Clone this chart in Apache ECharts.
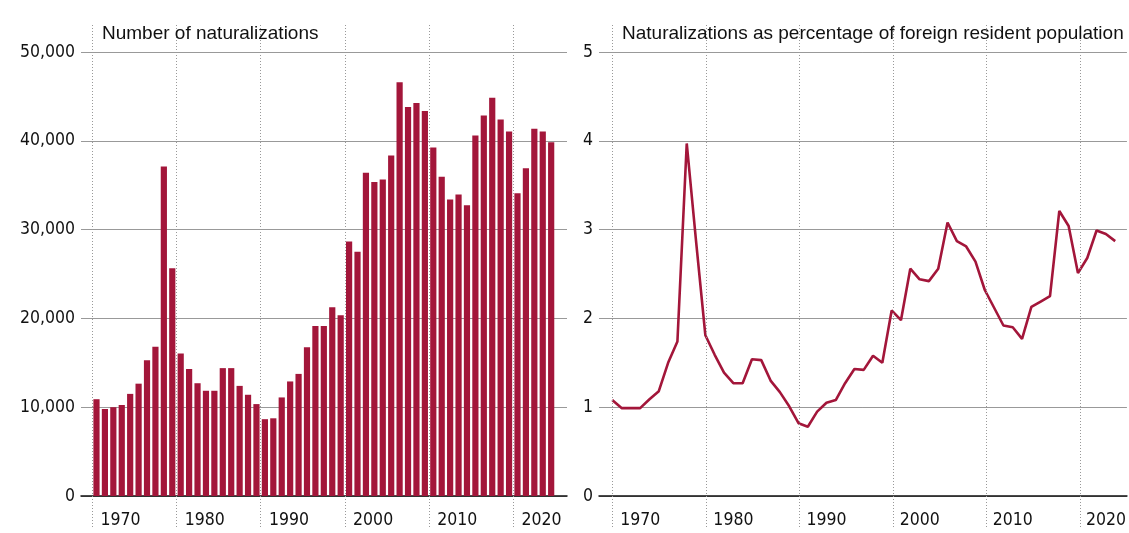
<!DOCTYPE html>
<html>
<head>
<meta charset="utf-8">
<script src="https://cdn.jsdelivr.net/npm/echarts@6/dist/echarts.min.js"></script>
<style>
html,body{margin:0;padding:0;background:#fff;}
#c{width:1129px;height:533px;}
</style>
</head>
<body>
<div id="c"></div>
<script>
var years = [1970,1971,1972,1973,1974,1975,1976,1977,1978,1979,
             1980,1981,1982,1983,1984,1985,1986,1987,1988,1989,
             1990,1991,1992,1993,1994,1995,1996,1997,1998,1999,
             2000,2001,2002,2003,2004,2005,2006,2007,2008,2009,
             2010,2011,2012,2013,2014,2015,2016,2017,2018,2019,
             2020,2021,2022,2023,2024];
var naturalizations = [10900,9800,10000,10250,11500,12650,15300,16800,37100,25650,
                       16050,14300,12700,11850,11850,14400,14400,12400,11400,10350,
                       8650,8750,11100,12900,13750,16750,19150,19150,21250,20350,
                       28650,27500,36400,35350,35650,38350,46600,43800,44250,43350,
                       39250,35950,33400,33950,32750,40600,42850,44850,42400,41050,
                       34100,36900,41350,41050,39850];
var percentage = [1.08,0.99,0.99,0.99,1.09,1.18,1.50,1.74,3.97,2.87,
                  1.81,1.59,1.39,1.27,1.27,1.54,1.53,1.30,1.17,1.01,
                  0.82,0.78,0.95,1.05,1.08,1.27,1.43,1.42,1.58,1.50,
                  2.09,1.98,2.56,2.44,2.42,2.56,3.08,2.87,2.81,2.64,
                  2.32,2.12,1.92,1.90,1.77,2.13,2.19,2.25,3.21,3.04,
                  2.51,2.68,2.99,2.95,2.87];
var decadeTicks = [1970,1980,1990,2000,2010,2020];
var leftTitle = 'Number of naturalizations';
var rightTitle = 'Naturalizations as percentage of foreign resident population';

var RED = '#A3163A';
var TICKFONT = '"Liberation Sans Narrow","DejaVu Sans Condensed",sans-serif';
var TICKSIZE = 17.5;
var TITLEFONT = '"Liberation Sans","Arial",sans-serif';

var barPairs = years.map(function(y,i){return [y, naturalizations[i]];});
var linePairs = years.map(function(y,i){return [y, percentage[i]];});

var L = {left:81, right:1129-567, min:1968.16, max:2025.88};
var R = {left:599, right:0, min:1968.58, max:2025.26};

function xAxisMain(gi, ext, pad){
  return {
    type:'value', gridIndex:gi, min:ext.min, max:ext.max,
    splitLine:{show:false},
    axisLine:{show:true, onZero:false, lineStyle:{color:'#111', width:1.5}},
    axisTick:{show:false, customValues:decadeTicks},
    axisLabel:{show:true, customValues:decadeTicks, align:'left', margin:15,
      padding:[0,0,0,pad], color:'#111', fontSize:TICKSIZE, fontFamily:TICKFONT,
      formatter:function(v){return String(Math.round(v));}}
  };
}
function xAxisOverlay(gi, ext){
  return {type:'value', gridIndex:gi, min:ext.min, max:ext.max, show:false,
          splitLine:{show:false}};
}
function yAxisOverlay(gi){
  return {type:'value', gridIndex:gi, min:0, max:1, show:false, splitLine:{show:false}};
}
function dotted(offset){
  return decadeTicks.map(function(t){return {xAxis:t+offset};});
}

var option = {
  animation:false,
  backgroundColor:'#fff',
  title:[
    {text:leftTitle, left:102, top:24, padding:0,
     textStyle:{fontFamily:TITLEFONT, fontSize:19, fontWeight:'normal', color:'#111'}},
    {text:rightTitle, left:622, top:24, padding:0,
     textStyle:{fontFamily:TITLEFONT, fontSize:19, fontWeight:'normal', color:'#111'}}
  ],
  grid:[
    {left:L.left, right:L.right, top:52, bottom:37, containLabel:false},
    {left:R.left, right:R.right, top:52, bottom:37, containLabel:false},
    {left:L.left, right:L.right, top:25, bottom:6, containLabel:false},
    {left:R.left, right:R.right, top:25, bottom:6, containLabel:false}
  ],
  xAxis:[
    xAxisMain(0, L, 4),
    xAxisMain(1, R, 8),
    xAxisOverlay(2, L),
    xAxisOverlay(3, R)
  ],
  yAxis:[
    {type:'value', gridIndex:0, min:0, max:50000, interval:10000,
     axisLine:{show:false}, axisTick:{show:false},
     splitLine:{show:true, lineStyle:{color:'#999', width:1}},
     axisLabel:{margin:6, color:'#111', fontSize:TICKSIZE, fontFamily:TICKFONT,
       formatter:function(v){return v.toLocaleString('en-US');}}},
    {type:'value', gridIndex:1, min:0, max:5, interval:1,
     axisLine:{show:false}, axisTick:{show:false},
     splitLine:{show:true, lineStyle:{color:'#999', width:1}},
     axisLabel:{margin:6, color:'#111', fontSize:TICKSIZE, fontFamily:TICKFONT}},
    yAxisOverlay(2),
    yAxisOverlay(3)
  ],
  series:[
    {type:'line', xAxisIndex:2, yAxisIndex:2, data:[], silent:true, z:1,
     markLine:{silent:true, symbol:'none', animation:false, label:{show:false},
       lineStyle:{type:[1,2], color:'#999', width:1}, data:dotted(-0.5)}},
    {type:'line', xAxisIndex:3, yAxisIndex:3, data:[], silent:true, z:1,
     markLine:{silent:true, symbol:'none', animation:false, label:{show:false},
       lineStyle:{type:[1,2], color:'#999', width:1}, data:dotted(0)}},
    {type:'bar', xAxisIndex:0, yAxisIndex:0, data:barPairs, barWidth:6.2, z:3,
     itemStyle:{color:RED}},
    {type:'line', xAxisIndex:1, yAxisIndex:1, data:linePairs, symbol:'none', z:3,
     lineStyle:{color:RED, width:2.6}}
  ]
};
var chart = echarts.init(document.getElementById('c'), null, {renderer:'canvas'});
chart.setOption(option);
</script>
</body>
</html>
